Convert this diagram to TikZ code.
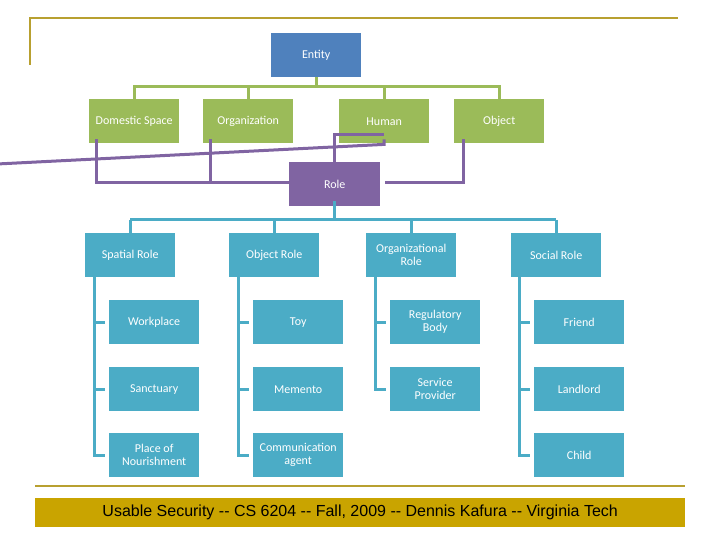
\documentclass[tikz,border=0pt]{standalone}
\usepackage{fontspec}
\setmainfont{Carlito}
\newfontfamily\footfont{Liberation Sans}
\begin{document}
\begin{tikzpicture}[x=1pt,y=-1pt,
  bx/.style={draw=none,minimum width=90pt,minimum height=44pt,inner sep=1pt,text=white,align=center,font=\fontsize{12}{13}\selectfont,anchor=north west},
  ent/.style={bx,fill=entc},
  grn/.style={bx,fill=grnc},
  pur/.style={bx,fill=purc},
  blu/.style={bx,fill=bluc},
  gl/.style={draw=grnc,line width=3pt},
  pl/.style={draw=purc,line width=3pt},
  bl/.style={draw=bluc,line width=3pt}]
\definecolor{entc}{HTML}{4F81BD}
\definecolor{grnc}{HTML}{9BBB59}
\definecolor{purc}{HTML}{8064A2}
\definecolor{bluc}{HTML}{4BACC6}
\definecolor{gold}{HTML}{C9A400}
\definecolor{goldl}{HTML}{B8A030}
\useasboundingbox (0,0) rectangle (720,540);
\fill[white] (0,0) rectangle (720,540);
\draw[goldl,line width=1.5pt] (30,65) -- (30,18) -- (678,18);
\draw[goldl,line width=1.5pt] (35,486) -- (685,486);
\node[fill=gold,minimum width=650pt,minimum height=29pt,anchor=north west,inner sep=0pt,font=\footfont\fontsize{16}{18}\selectfont] (foot) at (35,498) {Usable Security -- CS 6204 -- Fall, 2009 -- Dennis Kafura -- Virginia Tech};
% top
\node[ent] (ent) at (271,33) {Entity};
\node[grn] (dom) at (89,99) {Domestic Space};
\node[grn] (org) at (203,99) {Organization};
\node[grn] (hum) at (339,99) {Human};
\node[grn] (obj) at (454,99) {Object};
\node[pur,minimum width=91pt] (role) at (289,162) {Role};
\coordinate (gbus) at (0,87);
\draw[gl] (ent.south) -- (ent.south |- gbus);
\draw[gl] (dom.south -| dom.north) ++(0,0) (dom.north) -- (dom.north |- gbus) -- (obj.north |- gbus) -- (obj.north);
\draw[gl] (org.north) -- (org.north |- gbus);
\draw[gl] (hum.north) -- (hum.north |- gbus);
% purple
\coordinate (pbus) at (0,183);
\draw[pl] ([xshift=7pt,yshift=4pt]dom.south west) -- ([xshift=7pt]dom.south west |- pbus) -- (role.west |- pbus);
\draw[pl] ([xshift=7pt,yshift=4pt]org.south west) -- ([xshift=7pt]org.south west |- pbus);
\draw[pl] ([xshift=9pt,yshift=4pt]obj.south west) -- ([xshift=9pt]obj.south west |- pbus) -- ([xshift=5pt]role.east |- pbus);
\draw[pl] ([yshift=4pt]hum.south) -- ++(0,5) -- ([xshift=-3pt,yshift=-2pt]role.north -| 0,0) ;
\path ([yshift=9pt]hum.south) coordinate (h1);
\draw[pl] (h1) -- (role.north |- h1) -- (role.north);
% blue
\node[blu] (sp) at (85,233) {Spatial Role};
\node[blu] (orl) at (229,233) {Object Role};
\node[blu] (ogr) at (366,233) {Organizational\\Role};
\node[blu] (soc) at (511,233) {Social Role};
\coordinate (bbus) at (0,220);
\draw[bl] ([yshift=5pt]role.south) -- (role.south |- bbus);
\draw[bl] ([xshift=45pt]sp.south west |- bbus) -- (soc.north |- bbus);
\foreach \n in {sp,orl,ogr,soc} \draw[bl] (\n.north |- bbus) -- (\n.north);
% children
\node[blu] (c11) at (109,300) {Workplace};
\node[blu] (c12) at (109,367) {Sanctuary};
\node[blu] (c13) at (109,433) {Place of\\Nourishment};
\node[blu] (c21) at (253,300) {Toy};
\node[blu] (c22) at (253,367) {Memento};
\node[blu] (c23) at (253,433) {Communication\\agent};
\node[blu] (c31) at (390,300) {Regulatory\\Body};
\node[blu] (c32) at (390,367) {Service\\Provider};
\node[blu] (c41) at (534,300) {Friend};
\node[blu] (c42) at (534,367) {Landlord};
\node[blu] (c43) at (534,433) {Child};
\draw[bl] ([xshift=9pt,yshift=6pt]sp.south west) -- ([xshift=9pt]sp.south west |- c13.west) -- ([xshift=-4pt]c13.west);
\draw[bl] ([xshift=9pt]sp.south west |- c11.west) -- ([xshift=-4pt]c11.west);
\draw[bl] ([xshift=9pt]sp.south west |- c12.west) -- ([xshift=-4pt]c12.west);
\draw[bl] ([xshift=9pt,yshift=6pt]orl.south west) -- ([xshift=9pt]orl.south west |- c23.west) -- ([xshift=-4pt]c23.west);
\draw[bl] ([xshift=9pt]orl.south west |- c21.west) -- ([xshift=-4pt]c21.west);
\draw[bl] ([xshift=9pt]orl.south west |- c22.west) -- ([xshift=-4pt]c22.west);
\draw[bl] ([xshift=9pt,yshift=6pt]ogr.south west) -- ([xshift=9pt]ogr.south west |- c32.west) -- ([xshift=-4pt]c32.west);
\draw[bl] ([xshift=9pt]ogr.south west |- c31.west) -- ([xshift=-4pt]c31.west);
\draw[bl] ([xshift=8pt,yshift=6pt]soc.south west) -- ([xshift=8pt]soc.south west |- c43.west) -- ([xshift=-4pt]c43.west);
\draw[bl] ([xshift=8pt]soc.south west |- c41.west) -- ([xshift=-4pt]c41.west);
\draw[bl] ([xshift=8pt]soc.south west |- c42.west) -- ([xshift=-4pt]c42.west);
\end{tikzpicture}
\end{document}
